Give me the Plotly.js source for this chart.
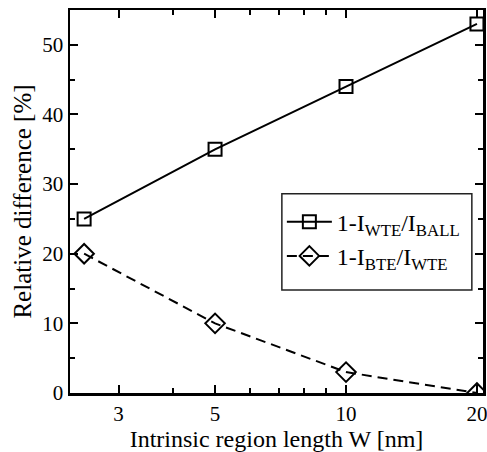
<!DOCTYPE html>
<html>
<head>
<meta charset="utf-8">
<script src="https://cdn.plot.ly/plotly-3.0.1.min.js"></script>
<style>html,body{margin:0;padding:0;background:#fff;}#chart{width:487px;height:452px;}</style>
</head>
<body>
<div id="chart"></div>
<script>
const widths = [2.5, 5, 10, 20];
const wteBall = [25, 35, 44, 53];
const bteWte = [20, 10, 3, 0];
const xTickVals = [3, 5, 10, 20];
const xTickText = ['3', '5', '10', '20'];
const xMinorVals = [4, 6, 7, 8, 9];
const seriesNames = ['1-I<sub>WTE</sub>/I<sub>BALL</sub>', '1-I<sub>BTE</sub>/I<sub>WTE</sub>'];

const FAM = 'Liberation Serif';
const f = (s) => ({family: FAM, size: s, color: '#000'});

const traces = [
  {x: widths, y: wteBall, name: seriesNames[0], mode: 'lines+markers',
   line: {color: '#000', width: 2},
   marker: {symbol: 'square-open', size: 13, color: '#000', line: {width: 2}}},
  {x: widths, y: bteWte, name: seriesNames[1], mode: 'lines+markers',
   line: {color: '#000', width: 2, dash: '10px,6px'},
   marker: {symbol: 'diamond-open', size: 15, color: '#000', line: {width: 2}}}
];

const layout = {
  width: 487, height: 452,
  margin: {l: 70, r: 4, t: 10, b: 59},
  paper_bgcolor: '#fff', plot_bgcolor: '#fff',
  font: f(21),
  showlegend: true,
  legend: {x: 0.513, y: 0.505, xanchor: 'left', yanchor: 'top',
           borderwidth: 0, bgcolor: 'rgba(0,0,0,0)',
           font: f(24), itemwidth: 45, tracegroupgap: 0},
  shapes: [{type: 'rect', xref: 'paper', yref: 'paper', x0: 0.513, x1: 0.973, y0: 0.269, y1: 0.52,
            line: {color: '#222', width: 1.5}, fillcolor: '#fff', layer: 'above'}],
  xaxis: {type: 'log', range: [Math.log10(2.32), Math.log10(20.65)],
          tickvals: xTickVals, ticktext: xTickText, ticklabeloverflow: 'allow',
          ticks: 'inside', ticklen: 8, tickwidth: 2, tickcolor: '#000',
          showline: true, linewidth: 2.5, linecolor: '#000', mirror: 'allticks',
          showgrid: false, zeroline: false,
          minor: {tickvals: xMinorVals, ticks: 'inside', ticklen: 5, tickwidth: 2, tickcolor: '#000', showgrid: false},
          tickfont: f(21),
          title: {text: 'Intrinsic region length W [nm]', font: f(24), standoff: 5}},
  yaxis: {range: [0, 55], dtick: 10, tick0: 0,
          ticks: 'inside', ticklen: 8, tickwidth: 2, tickcolor: '#000',
          showline: true, linewidth: 2.5, linecolor: '#000', mirror: 'allticks',
          showgrid: false, zeroline: false,
          minor: {dtick: 5, ticks: 'inside', ticklen: 5, tickwidth: 2, tickcolor: '#000', showgrid: false},
          tickfont: f(21),
          title: {text: 'Relative difference [%]', font: f(25), standoff: 4}}
};

Plotly.newPlot('chart', traces, layout, {displayModeBar: false, staticPlot: true});
</script>
</body>
</html>
